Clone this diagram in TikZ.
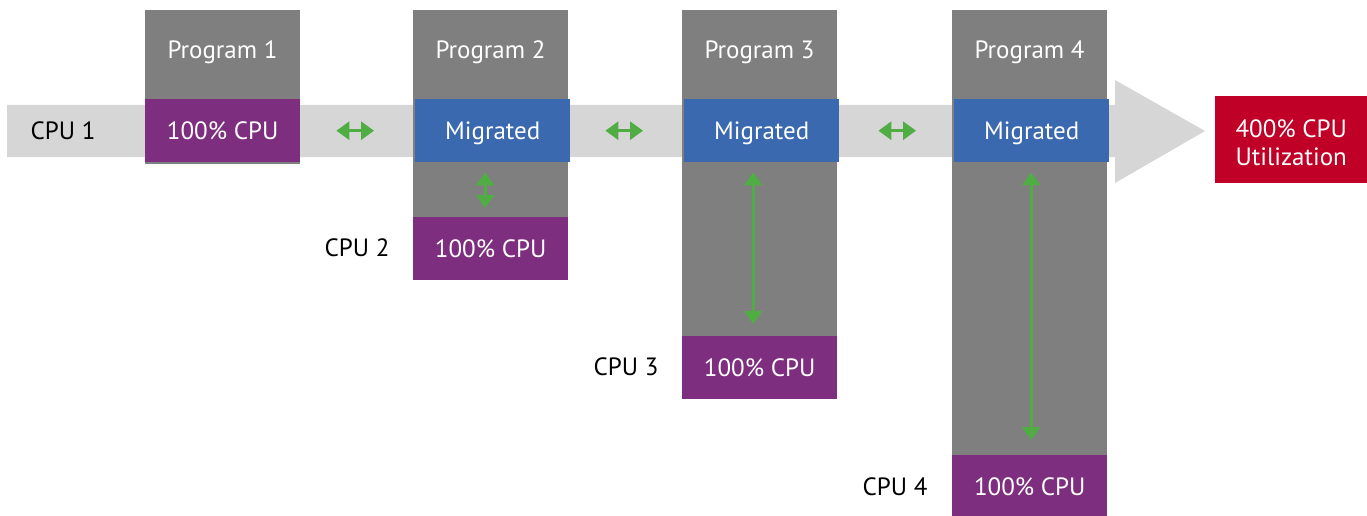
\documentclass[tikz,border=0pt]{standalone}
\usepackage{fontspec}
\setmainfont{PT Sans}
\usetikzlibrary{arrows.meta}
\definecolor{bandgray}{HTML}{D6D6D6}
\definecolor{colgray}{HTML}{7F7F7F}
\definecolor{cpupurple}{HTML}{7E2E7E}
\definecolor{migblue}{HTML}{3B69AF}
\definecolor{totred}{HTML}{C00026}
\definecolor{arrgreen}{HTML}{4FAD44}
\tikzset{
  txt/.style={font=\fontsize{25}{28}\selectfont, text height=17.5pt, text depth=0pt},
  column/.style={fill=colgray, inner sep=0, anchor=north west, minimum width=155pt},
  title/.style={txt, text=white},
  cpubox/.style={txt, fill=cpupurple, text=white, inner sep=0, anchor=north west,
    minimum width=155pt, minimum height=63pt},
  migbox/.style={txt, fill=migblue, text=white, inner sep=0, anchor=north west,
    minimum width=155pt, minimum height=63pt},
  cpulabel/.style={txt, text=black},
  swap/.style={draw=arrgreen, line width=3pt,
    {Triangle[length=13pt,width=18pt]}-{Triangle[length=13pt,width=18pt]}}
}
\begin{document}
\begin{tikzpicture}[x=1pt,y=-1pt]
\useasboundingbox (0,0) rectangle (1367,516);
% wide light-gray arrow carrying the load of CPU 1
\fill[bandgray] (7,105) -- (1115,105) -- (1115,80) -- (1205,131)
  -- (1115,183) -- (1115,157) -- (7,157) -- cycle;
% program columns
\node[column, minimum height=154pt] (col1) at (145,10) {};
\node[column, minimum height=269pt] (col2) at (413,10) {};
\node[column, minimum height=388pt] (col3) at (682,10) {};
\node[column, minimum height=506pt] (col4) at (952,10) {};
\node[title] (t1) at (222.5,49.5) {Program 1};
\node[title] (t2) at (490.5,49.5) {Program 2};
\node[title] (t3) at (759.5,49.5) {Program 3};
\node[title] (t4) at (1029.5,49.5) {Program 4};
% CPU boxes
\node[cpubox] (c1) at (145,99) {100\% CPU};
\node[cpubox] (c2) at (413,217) {100\% CPU};
\node[cpubox] (c3) at (682,336) {100\% CPU};
\node[cpubox] (c4) at (952,455) {100\% CPU};
% migrated work
\node[migbox] (m2) at (415,99) {Migrated};
\node[migbox] (m3) at (684,99) {Migrated};
\node[migbox] (m4) at (954,99) {Migrated};
% CPU labels
\node[cpulabel] (l1) at (63,130.5) {CPU 1};
\node[cpulabel] (l2) at (357,248) {CPU 2};
\node[cpulabel] (l3) at (626,367) {CPU 3};
\node[cpulabel] (l4) at (895,487) {CPU 4};
% total
\node[fill=totred, inner sep=0, anchor=north west,
  minimum width=152pt, minimum height=87pt] (tot) at (1215,96) {};
\node[text=white, align=center, inner sep=0,
  font=\fontsize{25}{28}\selectfont] (totlabel) at ([yshift=-3.5pt]tot.center)
  {400\% CPU\\Utilization};
% migration arrows
\draw[swap, shorten <=36pt, shorten >=41pt] (c1.east) -- (m2.west);
\draw[swap, shorten <=35pt, shorten >=41pt] (m2.east) -- (m3.west);
\draw[swap, shorten <=39pt, shorten >=38pt] (m3.east) -- (m4.west);
\draw[swap, shorten <=10pt, shorten >=9pt] ([xshift=-7.5pt]m2.south) -- ([xshift=-5.5pt]c2.north);
\draw[swap, shorten <=10pt, shorten >=12pt] ([xshift=-8.5pt]m3.south) -- ([xshift=-6.5pt]c3.north);
\draw[swap, shorten <=10pt, shorten >=15pt] ([xshift=-0.5pt]m4.south) -- ([xshift=1.5pt]c4.north);
\end{tikzpicture}
\end{document}
